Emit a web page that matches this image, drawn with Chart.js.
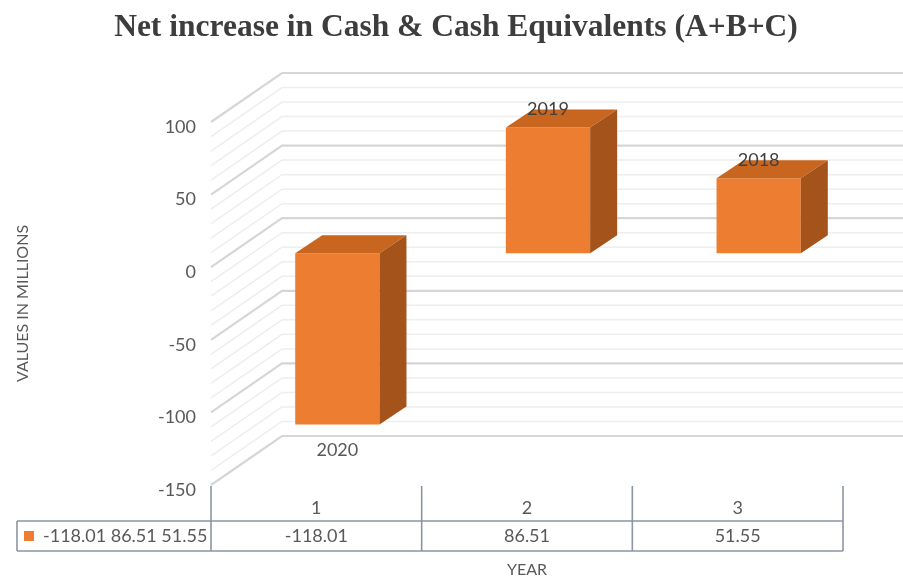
<!DOCTYPE html>
<html>
<head>
<meta charset="utf-8">
<title>Net increase in Cash & Cash Equivalents</title>
<script src="https://cdn.jsdelivr.net/npm/chart.js@4/dist/chart.umd.min.js"></script>
<style>
html, body { margin: 0; padding: 0; background: #fff; }
#wrap { position: relative; width: 903px; height: 578px; }
</style>
</head>
<body>
<div id="wrap"><canvas id="cashChart" width="903" height="578"></canvas></div>
<script>
/* ===== Datos ===== */
const categories = ['1', '2', '3'];
const values = [-118.01, 86.51, 51.55];
const yearLabels = ['2020', '2019', '2018'];
const seriesName = '-118.01 86.51 51.55';
const yMin = -150, yMax = 100, yStep = 50, yMinorStep = 10;

/* ===== Estilo / geometría 3D ===== */
const ORANGE = '#ED7D31', ORANGE_TOP = '#C8651F', ORANGE_SIDE = '#A4531A';
const WALL_DX = 71, WALL_DY = -49;        // profundidad de las paredes
const BAR_SHIFT_X = 21, BAR_SHIFT_Y = -14; // plano donde se apoyan las barras
const BAR_DX = 27, BAR_DY = -18;          // profundidad de cada barra
const NUM_FONT = '18px Lato';
const TEXT_GRAY = '#595959';

/* paredes: lateral inclinada + fondo con líneas de división */
const walls = {
    id: 'walls',
    beforeDatasetsDraw(chart) {
        const { ctx, chartArea: a, scales: { y } } = chart;
        const farX = chart.width + 20;
        const level = (v, major) => {
            const py = y.getPixelForValue(v);
            ctx.strokeStyle = major ? '#d6d6d6' : '#eeeeee';
            ctx.lineWidth = major ? 2.2 : 1.5;
            ctx.beginPath();
            ctx.moveTo(a.left, py);
            ctx.lineTo(a.left + WALL_DX, py + WALL_DY);
            ctx.lineTo(farX, py + WALL_DY);
            ctx.stroke();
        };
        ctx.save();
        for (let v = yMin; v <= yMax; v += yMinorStep) if (v % yStep !== 0) level(v, false);
        for (let v = yMin; v <= yMax; v += yStep) level(v, true);
        ctx.restore();
    }
};

/* barras: caras superior y lateral + etiquetas de año */
const bars3d = {
    id: 'bars3d',
    beforeDatasetDraw(chart) {
        chart.ctx.save();
        chart.ctx.translate(BAR_SHIFT_X, BAR_SHIFT_Y);
    },
    afterDatasetDraw(chart, args) {
        const ctx = chart.ctx;
        args.meta.data.forEach((bar, i) => {
            const { x, y, base, width } = bar.getProps(['x', 'y', 'base', 'width'], true);
            const l = x - width / 2, r = x + width / 2;
            const top = Math.min(y, base), bot = Math.max(y, base);

            ctx.fillStyle = ORANGE_TOP;
            ctx.beginPath();
            ctx.moveTo(l, top);
            ctx.lineTo(l + BAR_DX, top + BAR_DY);
            ctx.lineTo(r + BAR_DX, top + BAR_DY);
            ctx.lineTo(r, top);
            ctx.closePath();
            ctx.fill();

            ctx.fillStyle = ORANGE_SIDE;
            ctx.beginPath();
            ctx.moveTo(r, top);
            ctx.lineTo(r + BAR_DX, top + BAR_DY);
            ctx.lineTo(r + BAR_DX, bot + BAR_DY);
            ctx.lineTo(r, bot);
            ctx.closePath();
            ctx.fill();

            ctx.font = NUM_FONT;
            ctx.textAlign = 'center';
            ctx.textBaseline = 'middle';
            const neg = values[i] < 0;
            ctx.fillStyle = neg ? TEXT_GRAY : '#404040';
            ctx.fillText(yearLabels[i], x, neg ? bot + 26 : top - 18);
        });
        ctx.restore();
    }
};

/* tabla de datos bajo el eje X */
const dataTable = {
    id: 'dataTable',
    afterDraw(chart) {
        const { ctx, chartArea: a, scales: { x } } = chart;
        const cw = (a.right - a.left) / categories.length;
        const tableLeft = 17;
        const headTop = a.bottom + 1, rowTop = a.bottom + 36, rowBot = a.bottom + 66;

        ctx.save();
        ctx.strokeStyle = '#8a96a3';
        ctx.lineWidth = 1.6;
        ctx.beginPath();
        for (let i = 0; i <= categories.length; i++) {
            const bx = a.left + i * cw;
            ctx.moveTo(bx, headTop);
            ctx.lineTo(bx, rowBot);
        }
        ctx.moveTo(tableLeft, rowTop); ctx.lineTo(a.right, rowTop);
        ctx.moveTo(tableLeft, rowBot); ctx.lineTo(a.right, rowBot);
        ctx.moveTo(tableLeft, rowTop); ctx.lineTo(tableLeft, rowBot);
        ctx.stroke();

        ctx.font = NUM_FONT;
        ctx.fillStyle = TEXT_GRAY;
        ctx.textBaseline = 'middle';
        ctx.textAlign = 'center';
        categories.forEach((c, i) => {
            const cx = x.getPixelForValue(i);
            ctx.fillText(c, cx, a.bottom + 23);
            ctx.fillText(String(values[i]), cx, (rowTop + rowBot) / 2);
        });

        // clave de la serie
        ctx.fillStyle = ORANGE;
        ctx.fillRect(24, (rowTop + rowBot) / 2 - 5, 10, 10);
        ctx.fillStyle = TEXT_GRAY;
        ctx.textAlign = 'left';
        ctx.fillText(seriesName, 43, (rowTop + rowBot) / 2);

        ctx.font = '16px Lato';
        ctx.textAlign = 'center';
        ctx.fillText('YEAR', (a.left + a.right) / 2, 570);
        ctx.restore();
    }
};

new Chart(document.getElementById('cashChart'), {
    type: 'bar',
    data: {
        labels: categories,
        datasets: [{
            label: seriesName,
            data: values,
            backgroundColor: ORANGE,
            borderWidth: 0,
            barPercentage: 0.4,
            categoryPercentage: 1,
            clip: false
        }]
    },
    options: {
        responsive: false,
        animation: false,
        layout: { padding: { top: 0, right: 0, bottom: 93, left: 9 } },
        plugins: {
            legend: { display: false },
            tooltip: { enabled: false },
            title: {
                display: true,
                text: 'Net increase in Cash & Cash Equivalents (A+B+C)',
                color: '#3d3d3d',
                font: { family: 'Liberation Serif', size: 31.5, weight: 'bold' },
                padding: { top: 8.6, bottom: 75.6 }
            }
        },
        scales: {
            x: { display: false },
            y: {
                min: yMin,
                max: yMax,
                grid: { display: false, drawTicks: false },
                border: { display: false },
                ticks: {
                    stepSize: yStep,
                    padding: 15,
                    labelOffset: 5,
                    color: TEXT_GRAY,
                    font: { family: 'Lato', size: 18 }
                },
                title: {
                    display: true,
                    text: 'VALUES IN MILLIONS',
                    color: TEXT_GRAY,
                    font: { family: 'Lato', size: 16 },
                    padding: { top: 4.5, bottom: 0 }
                },
                afterFit(scale) { scale.width = 202; }
            },
            // margen derecho vacío (la pared del fondo sigue hasta el borde)
            yRight: {
                position: 'right',
                min: yMin,
                max: yMax,
                grid: { display: false, drawTicks: false },
                border: { display: false },
                ticks: { display: false },
                afterFit(scale) { scale.width = 60; }
            }
        }
    },
    plugins: [walls, bars3d, dataTable]
});
</script>
</body>
</html>
